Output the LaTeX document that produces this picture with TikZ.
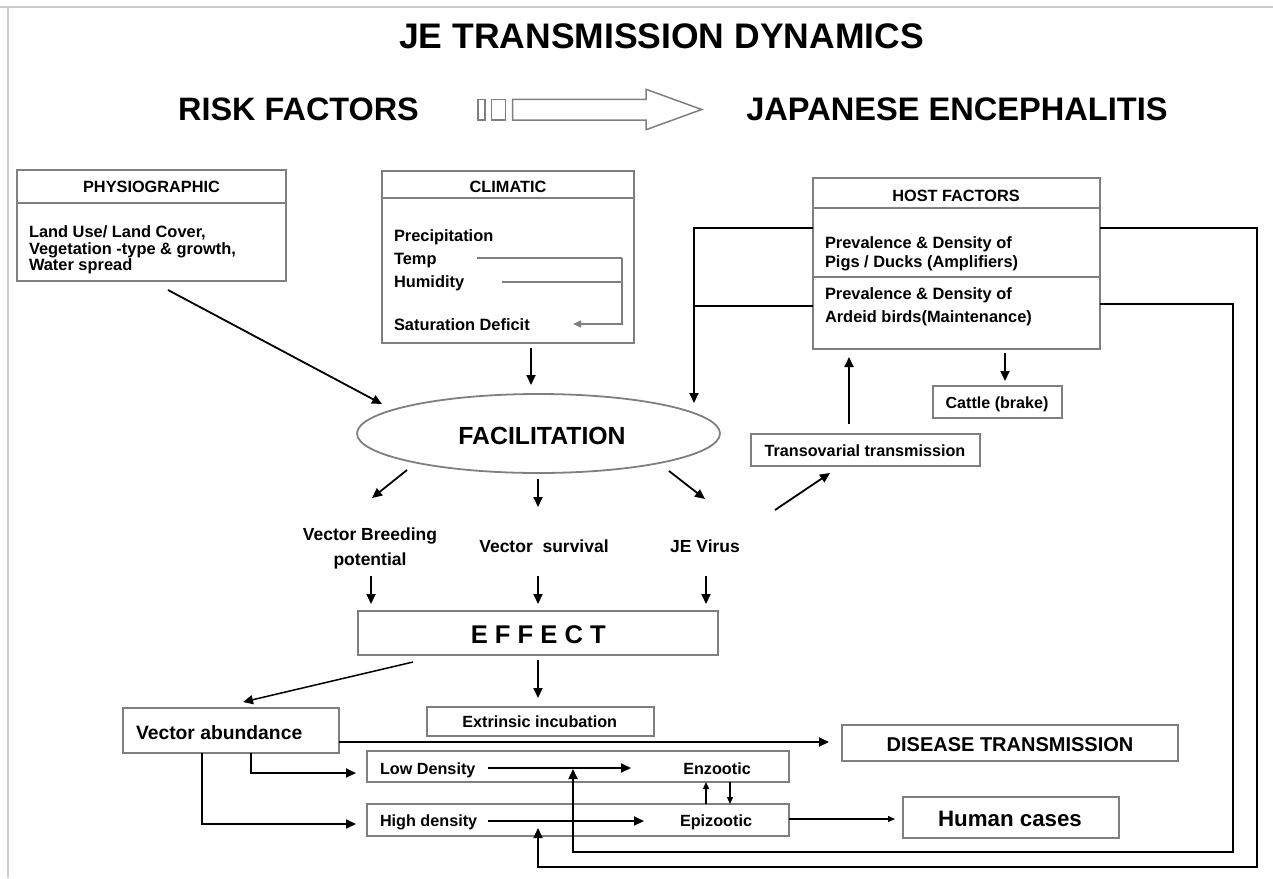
\documentclass[tikz,border=0pt]{standalone}
\usepackage{fontspec}
\setmainfont{Liberation Sans}
\usetikzlibrary{arrows.meta,shapes.geometric}
\definecolor{bgray}{HTML}{7F7F7F}
\definecolor{fgray}{HTML}{CCCCCC}
\newcommand\fsz[1]{\fontsize{#1}{#1}\selectfont}
\tikzset{
  box/.style={draw=bgray, line width=1.8pt, inner sep=0pt, outer sep=0pt},
  sep/.style={draw=bgray, line width=1.8pt},
  txt/.style={inner sep=0pt, outer sep=0pt, font=\bfseries\fsz{#1}},
  conn/.style={line width=1.8pt, -{Triangle[length=10pt,width=9pt]}},
  link/.style={line width=1.8pt},
  sconn/.style={line width=1.4pt, -{Triangle[length=7pt,width=6pt]}},
  gconn/.style={draw=bgray, line width=1.5pt, -{Triangle[length=8pt,width=7pt]}},
  gline/.style={draw=bgray, line width=1.5pt},
}
\begin{document}
\begin{tikzpicture}[x=1pt,y=-1pt]
\useasboundingbox (0,0) rectangle (1273,878);
% frame
\coordinate (ftl) at (0,7); \coordinate (ftr) at (1273,7);
\coordinate (fl0) at (8,7); \coordinate (fbl) at (8,878);
\draw[fgray, line width=1.5pt] (ftl) -- (ftr);
\draw[fgray, line width=2pt] (fl0) -- (fbl);

% header
\node[txt=35.5, anchor=base] (title) at (661.5,48) {JE TRANSMISSION DYNAMICS};
\node[txt=32.4, anchor=base] (risk) at (298.5,120) {RISK FACTORS};
\node[txt=32.6, anchor=base] (je) at (957,120) {JAPANESE ENCEPHALITIS};
\node[box, line width=1.5pt, minimum width=7.3pt, minimum height=20.7pt] (bar1) at (481.4,109.7) {};
\node[box, line width=1.5pt, minimum width=14pt, minimum height=20.7pt] (bar2) at (498.7,109.7) {};
\draw[gline] (512.7,99.3) -- (646,99.3) -- (646,89.3) -- (701.7,109.5) -- (646,129.7) -- (646,120) -- (512.7,120) -- cycle;

% physiographic
\node[box, minimum width=269pt, minimum height=111pt] (phys) at (151.5,225.5) {};
\coordinate (pd1) at (17,203); \coordinate (pd2) at (286,203);
\draw[sep] (pd1) -- (pd2);
\node[txt=16.3, anchor=base] (physh) at (151.5,192.8) {PHYSIOGRAPHIC};
\node[txt=16.4, anchor=base west] (phys1) at (29,237.5) {Land Use/ Land Cover,};
\node[txt=16.4, anchor=base west] (phys2) at (29,254) {Vegetation -type \& growth,};
\node[txt=16.4, anchor=base west] (phys3) at (29,270.5) {Water spread};

% climatic
\node[box, minimum width=252pt, minimum height=172pt] (clim) at (508,257) {};
\coordinate (cd1) at (382,198); \coordinate (cd2) at (634,198);
\draw[sep] (cd1) -- (cd2);
\node[txt=16.3, anchor=base] (climh) at (508,192.8) {CLIMATIC};
\node[txt=16.4, anchor=base west] (prec) at (394,241.7) {Precipitation};
\node[txt=16.4, anchor=base west] (temp) at (394,264) {Temp};
\node[txt=16.4, anchor=base west] (humid) at (394,287.7) {Humidity};
\node[txt=16.4, anchor=base west] (satd) at (394,330.7) {Saturation Deficit};
\coordinate (t0) at (477,258); \coordinate (h0) at (502,282);
\coordinate (cj) at (622,258); \coordinate (s0) at (573,324);
\draw[gline] (t0) -- (cj);
\draw[gline] (h0) -- (cj |- h0);
\draw[gconn] (cj) -- (cj |- s0) -- (s0);

% host factors
\node[box, minimum width=287pt, minimum height=171pt] (host) at (956.5,263.5) {};
\coordinate (hd1) at (813,208); \coordinate (hd2) at (1100,208);
\coordinate (hd3) at (813,277); \coordinate (hd4) at (1100,277);
\draw[sep] (hd1) -- (hd2);
\draw[sep] (hd3) -- (hd4);
\node[txt=16.3, anchor=base] (hosth) at (956,201) {HOST FACTORS};
\node[txt=16.4, anchor=base west] (host1) at (825,248.3) {Prevalence \& Density of};
\node[txt=16.4, anchor=base west] (host2) at (825,267.5) {Pigs / Ducks (Amplifiers)};
\node[txt=16.4, anchor=base west] (host3) at (825,299.3) {Prevalence \& Density of};
\node[txt=16.4, anchor=base west] (host4) at (825,322.3) {Ardeid birds(Maintenance)};

% cattle, transovarial
\node[box, minimum width=129pt, minimum height=32pt] (cattle) at (997.5,402) {};
\node[txt=16.1, anchor=base] (cattlet) at (997,408.3) {Cattle (brake)};
\node[box, minimum width=229pt, minimum height=32pt] (trans) at (865.5,450) {};
\node[txt=16.2, anchor=base] (transt) at (865,456) {Transovarial transmission};

% facilitation
\node[ellipse, draw=bgray, line width=1.8pt, minimum width=363pt, minimum height=79pt, inner sep=0pt] (facil) at (538.5,433.5) {};
\node[txt=24.8, anchor=base] (facilt) at (542,444) {FACILITATION};

% labels
\node[txt=17.5, anchor=base] (vb1) at (370,540) {Vector Breeding};
\node[txt=17.5, anchor=base] (vb2) at (370,565) {potential};
\node[txt=17.5, anchor=base] (vs) at (544,552.3) {Vector~~survival};
\node[txt=17.5, anchor=base] (jev) at (705,552.3) {JE Virus};

% effect
\node[box, minimum width=360pt, minimum height=44pt] (effect) at (538,633) {};
\node[txt=25.6, anchor=base] (effectt) at (538.3,643.3) {E F F E C T};

% extrinsic
\node[box, minimum width=227pt, minimum height=29pt] (extr) at (540.5,721.5) {};
\node[txt=16.2, anchor=base] (extrt) at (539.7,727.7) {Extrinsic incubation};

% vector abundance
\node[box, minimum width=216pt, minimum height=45pt] (vab) at (231,730.5) {};
\node[txt=19.3, anchor=base west] (vabt) at (136,739.3) {Vector abundance};

% disease transmission
\node[box, minimum width=336pt, minimum height=36pt] (dis) at (1010,743) {};
\node[txt=20, anchor=base] (dist) at (1010,751) {DISEASE TRANSMISSION};

% low / high density
\node[box, minimum width=422pt, minimum height=31pt] (low) at (578,766.5) {};
\node[txt=16.2, anchor=base west] (lowt) at (380,774.3) {Low Density};
\node[txt=16.2, anchor=base] (enz) at (717,774.3) {Enzootic};
\node[box, minimum width=422pt, minimum height=32pt] (high) at (578,820) {};
\node[txt=16.2, anchor=base west] (hight) at (380,826.7) {High density};
\node[txt=16.2, anchor=base] (epi) at (716,826.7) {Epizootic};

% human cases
\node[box, minimum width=216pt, minimum height=41pt] (human) at (1011,817.5) {};
\node[txt=22.3, anchor=base] (humant) at (1010,826) {Human cases};

% ---------- connectors ----------
\coordinate (a1s) at (168,290); \coordinate (a1e) at (382,404);
\draw[conn] (a1s) -- (a1e);
\coordinate (a2s) at (531,348); \coordinate (a2e) at (531,385);
\draw[conn] (a2s) -- (a2e);
% host left
\coordinate (hl1) at (813,228); \coordinate (hlc) at (694,228); \coordinate (hlt) at (694,403);
\coordinate (hl2) at (813,306);
\draw[conn] (hl1) -- (hlc) -- (hlt);
\draw[link] (hl2) -- (hlc |- hl2);
% host right loops
\coordinate (hr1) at (1100,228); \coordinate (ro) at (1257,867); \coordinate (rot) at (538,828);
\draw[conn] (hr1) -- (ro |- hr1) -- (ro) -- (rot |- ro) -- (rot);
\coordinate (hr2) at (1100,304); \coordinate (ri) at (1233,852); \coordinate (rit) at (573,769);
\draw[conn] (hr2) -- (ri |- hr2) -- (ri) -- (rit |- ri) -- (rit);
% from facilitation
\coordinate (f1s) at (407,470); \coordinate (f1e) at (372,498);
\coordinate (f2s) at (538,479); \coordinate (f2e) at (538,507);
\coordinate (f3s) at (669,471); \coordinate (f3e) at (705,499);
\draw[conn] (f1s) -- (f1e);
\draw[conn] (f2s) -- (f2e);
\draw[conn] (f3s) -- (f3e);
% transovarial
\coordinate (tvs) at (775,510); \coordinate (tve) at (830,473);
\draw[conn] (tvs) -- (tve);
\coordinate (tus) at (849,424); \coordinate (tue) at (849,357);
\draw[conn] (tus) -- (tue);
\coordinate (cas) at (1005,353); \coordinate (cae) at (1005,381);
\draw[conn] (cas) -- (cae);
% into effect
\coordinate (d1s) at (371,576); \coordinate (d1e) at (371,604);
\coordinate (d2s) at (538,576); \coordinate (d2e) at (538,604);
\coordinate (d3s) at (706,576); \coordinate (d3e) at (706,604);
\draw[conn] (d1s) -- (d1e);
\draw[conn] (d2s) -- (d2e);
\draw[conn] (d3s) -- (d3e);
% from effect
\coordinate (e1s) at (538,660); \coordinate (e1e) at (538,698);
\draw[conn] (e1s) -- (e1e);
\coordinate (e2s) at (413,662); \coordinate (e2e) at (243,702);
\draw[conn, line width=1.5pt] (e2s) -- (e2e);
% vector abundance
\coordinate (v1s) at (339,742); \coordinate (v1e) at (829,742);
\draw[conn] (v1s) -- (v1e);
\coordinate (v2s) at (251,753); \coordinate (v2e) at (356,773);
\draw[conn] (v2s) -- (v2s |- v2e) -- (v2e);
\coordinate (v3s) at (202,753); \coordinate (v3e) at (356,824);
\draw[conn] (v3s) -- (v3s |- v3e) -- (v3e);
% inside density boxes
\coordinate (l1s) at (488,768); \coordinate (l1e) at (631,768);
\draw[conn] (l1s) -- (l1e);
\coordinate (h1s) at (488,821); \coordinate (h1e) at (644,821);
\draw[conn] (h1s) -- (h1e);
\coordinate (u1s) at (706,804); \coordinate (u1e) at (706,782);
\draw[sconn] (u1s) -- (u1e);
\coordinate (u2s) at (730,782); \coordinate (u2e) at (730,804);
\draw[sconn] (u2s) -- (u2e);
% to human cases
\coordinate (hcs) at (789,819); \coordinate (hce) at (895,819);
\draw[sconn] (hcs) -- (hce);
\end{tikzpicture}
\end{document}
